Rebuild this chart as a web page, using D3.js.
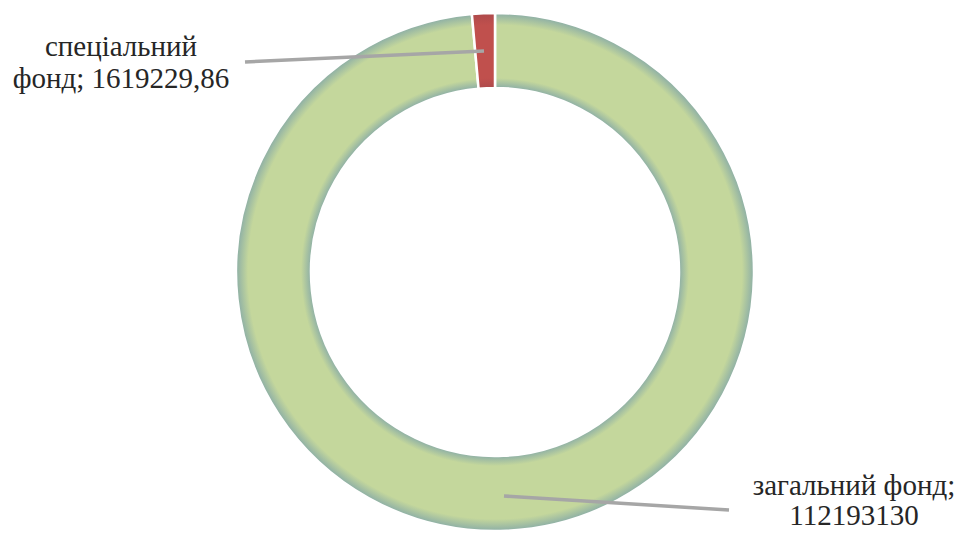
<!DOCTYPE html>
<html>
<head>
<meta charset="utf-8">
<script src="https://cdn.jsdelivr.net/npm/d3@7"></script>
<style>
  html, body { margin: 0; padding: 0; background: #fff; }
  svg { display: block; }
</style>
</head>
<body>
<svg id="chart" width="959" height="538"></svg>
<script>
// Budget funds (UAH)
const categories = ["загальний фонд", "спеціальний фонд"];
const values = [112193130, 1619229.86];
const valueLabels = ["112193130", "1619229,86"];
const labelLines = [["загальний фонд;", "112193130"], ["спеціальний", "фонд; 1619229,86"]];

const W = 959, H = 538;
const cx = 495, cy = 272;
const outerR = 259, innerR = 184;
const FONT = "'Liberation Serif', 'Times New Roman', Tinos, serif";

const svg = d3.select("#chart");
const defs = svg.append("defs");

// Radial shading across the ring width: darker bluish rims, light centre.
// Coordinates are in the slice group's space, which is centred on the ring.
function ringGradient(id, rim, mid) {
  const g = defs.append("radialGradient")
    .attr("id", id)
    .attr("gradientUnits", "userSpaceOnUse")
    .attr("cx", 0).attr("cy", 0).attr("r", outerR);
  const f = r => (r / outerR);
  [[innerR, rim], [innerR + 10, mid], [outerR - 12, mid], [outerR, rim]].forEach(([r, c]) => {
    g.append("stop").attr("offset", f(r)).attr("stop-color", c);
  });
}
ringGradient("gGreen", "#8caea6", "#c4d79c");
ringGradient("gRed", "#ad4a4b", "#c0504d");

const fills = ["url(#gGreen)", "url(#gRed)"];

const pie = d3.pie().sort(null).value(d => d)(values);
const arc = d3.arc().innerRadius(innerR).outerRadius(outerR);

const g = svg.append("g").attr("transform", `translate(${cx},${cy})`);
g.selectAll("path.slice")
  .data(pie)
  .join("path")
  .attr("class", "slice")
  .attr("d", arc)
  .attr("fill", (d, i) => fills[i])
  .attr("stroke", "#ffffff")
  .attr("stroke-width", 2.5);

// Leader lines and labels
const leaders = [
  { from: [504, 496], to: [729, 510], lx: 854, ly: 495, gap: 30 },
  { from: [484, 51], to: [245, 62], lx: 121, ly: 56, gap: 32 }
];

svg.selectAll("line.leader")
  .data(leaders)
  .join("line")
  .attr("class", "leader")
  .attr("x1", d => d.from[0]).attr("y1", d => d.from[1])
  .attr("x2", d => d.to[0]).attr("y2", d => d.to[1])
  .attr("stroke", "#a6a6a6")
  .attr("stroke-width", 3.5);

leaders.forEach((d, i) => {
  const t = svg.append("text")
    .attr("x", d.lx).attr("y", d.ly)
    .attr("text-anchor", "middle")
    .attr("font-family", FONT)
    .attr("font-size", 29)
    .attr("fill", "#262626");
  labelLines[i].forEach((line, k) => {
    t.append("tspan").attr("x", d.lx).attr("dy", k === 0 ? 0 : d.gap).text(line);
  });
});
</script>
</body>
</html>
